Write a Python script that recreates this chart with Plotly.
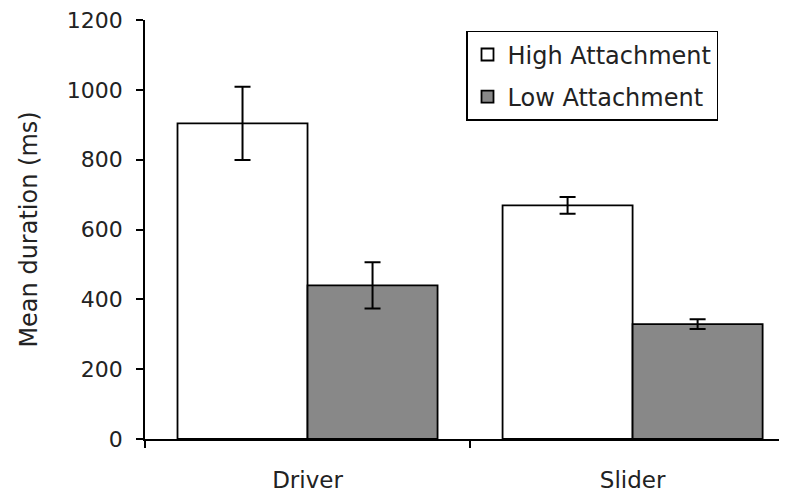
import plotly.graph_objects as go

categories = ["Driver", "Slider"]
high_values = [904, 669]
high_errors = [105, 24]
low_values = [440, 329]
low_errors = [66, 14]
y_ticks = [0, 200, 400, 600, 800, 1000, 1200]

FONT = "DejaVu Sans"

fig = go.Figure()
fig.add_trace(go.Bar(
    x=categories, y=high_values, name="High Attachment", legendgroup="h",
    marker=dict(color="white", line=dict(color="black", width=1.8)),
    error_y=dict(type="data", array=high_errors, color="black", thickness=2, width=8),
))
fig.add_trace(go.Bar(
    x=categories, y=low_values, name="Low Attachment", legendgroup="l",
    marker=dict(color="#888888", line=dict(color="black", width=1.8)),
    error_y=dict(type="data", array=low_errors, color="black", thickness=2, width=8),
))

fig.update_layout(
    width=779, height=488,
    margin=dict(l=137, r=0, t=12, b=57),
    paper_bgcolor="white", plot_bgcolor="white",
    font=dict(family=FONT, size=22, color="#222"),
    barmode="group", bargap=0.2, bargroupgap=0,
    showlegend=True,
    legend=dict(
        x=0.5, y=0.974, xanchor="left", yanchor="top",
        bgcolor="white", bordercolor="black", borderwidth=1.5,
        font=dict(family=FONT, size=24, color="#222"),
        tracegroupgap=8, itemwidth=30,
    ),
    xaxis=dict(
        range=[-0.5, 1.475], showline=True, linecolor="black", linewidth=1.5,
        ticks="outside", tickson="boundaries", ticklen=7, tickcolor="black", tickwidth=1.5,
        ticklabelstandoff=20, showgrid=False, zeroline=False, automargin=False,
        tickfont=dict(size=23), ticklabeloverflow="allow",
    ),
    yaxis=dict(
        range=[0, 1200], tickvals=y_ticks, showline=True, linecolor="black", linewidth=1.5,
        ticks="outside", ticklen=7, tickcolor="black", tickwidth=1.5,
        ticklabelstandoff=9, showgrid=False, zeroline=False, automargin=False,
        ticklabeloverflow="allow",
        title=dict(text="Mean duration (ms)", standoff=22, font=dict(size=24)),
    ),
)

fig.write_html("out.html")
